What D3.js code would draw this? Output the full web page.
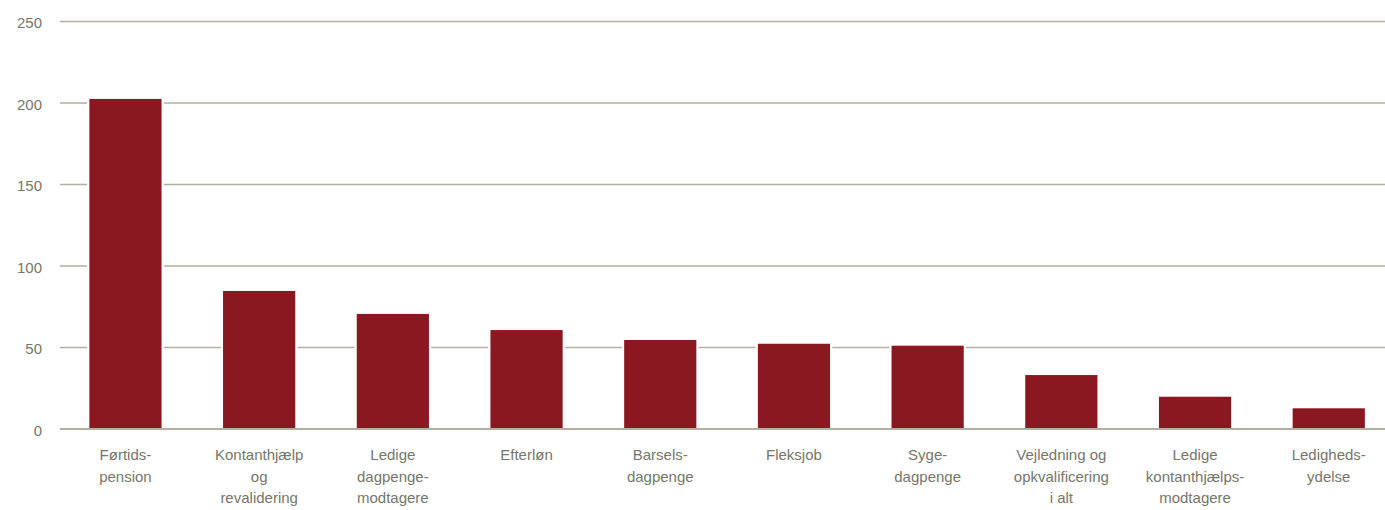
<!DOCTYPE html>
<html><head><meta charset="utf-8">
<script src="https://cdn.jsdelivr.net/npm/d3@7"></script>
<style>body{margin:0;background:#fff}svg{display:block}</style>
</head><body>
<svg id="c" width="1385" height="510"></svg>
<script>
const categories = [
  ["Førtids-","pension"],
  ["Kontanthjælp","og","revalidering"],
  ["Ledige","dagpenge-","modtagere"],
  ["Efterløn"],
  ["Barsels-","dagpenge"],
  ["Fleksjob"],
  ["Syge-","dagpenge"],
  ["Vejledning og","opkvalificering","i alt"],
  ["Ledige","kontanthjælps-","modtagere"],
  ["Ledigheds-","ydelse"]
];
const values = [202.5, 84.7, 70.6, 60.7, 54.6, 52.3, 51.1, 33.1, 19.8, 12.7];
const yTicks = [0, 50, 100, 150, 200, 250];

const svg = d3.select("#c");
const font = "'Liberation Sans', Arial, sans-serif";
const gridColor = "#b3b0a2";
const textColor = "#76766a";
const barColor = "#8b1821";

const keys = categories.map((d,i)=>i);
const x = d3.scaleBand().domain(keys).range([58.6, 1395.6]).paddingInner(0.46).paddingOuter(0.23);
const y = d3.scaleLinear().domain([0, 250]).range([429, 21.5]);

// gridlines
svg.append("g").selectAll("line").data(yTicks.filter(t=>t>0)).join("line")
  .attr("x1", 60).attr("x2", 1385)
  .attr("y1", d=>y(d)).attr("y2", d=>y(d))
  .attr("stroke", gridColor).attr("stroke-width", 1.6);

// y labels
svg.append("g").selectAll("text").data(yTicks).join("text")
  .attr("x", 42).attr("y", d=>y(d)+6.5)
  .attr("text-anchor","end")
  .attr("font-family", font).attr("font-size", 15).attr("fill", textColor)
  .text(d=>d);

// bars with white halo
svg.append("g").selectAll("rect").data(values).join("rect")
  .attr("x", (d,i)=>x(i)).attr("width", x.bandwidth())
  .attr("y", d=>y(d)).attr("height", d=>y(0)-y(d))
  .attr("fill", barColor).attr("stroke", "#fff").attr("stroke-width", 4.5);

svg.append("g").selectAll("rect").data(values).join("rect")
  .attr("x", (d,i)=>x(i)).attr("width", x.bandwidth())
  .attr("y", d=>y(d)).attr("height", d=>y(0)-y(d))
  .attr("fill", barColor);

// baseline
svg.append("line").attr("x1",60).attr("x2",1385).attr("y1",y(0)).attr("y2",y(0))
  .attr("stroke", gridColor).attr("stroke-width", 2);

// category labels
const lab = svg.append("g").selectAll("text").data(categories).join("text")
  .attr("text-anchor","middle")
  .attr("font-family", font).attr("font-size", 15).attr("fill", textColor);
lab.each(function(lines,i){
  const t = d3.select(this);
  lines.forEach((l,j)=>{
    t.append("tspan").attr("x", x(i)+x.bandwidth()/2).attr("y", 460 + j*21.5).text(l);
  });
});
</script>
</body></html>
